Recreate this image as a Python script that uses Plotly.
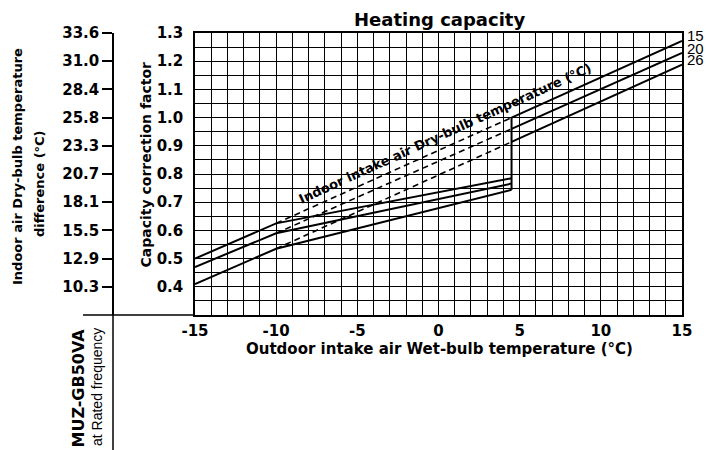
import plotly.graph_objects as go

# ---------------- data ----------------
indoor_db_labels = ["15", "20", "26"]          # indoor intake air dry-bulb temp (°C)
x_start = -15
x_break = -10
x_jump = 4.5
x_end = 15
cf_at_start = [0.50, 0.47, 0.41]
cf_at_break = [0.625, 0.59, 0.535]
cf_at_jump_low = [0.785, 0.766, 0.744]
cf_at_jump_high = [1.0, 0.96, 0.914]
cf_at_end = [1.272, 1.229, 1.188]

x_tick_vals = [-15, -10, -5, 0, 5, 10, 15]
x_tick_labels = ["-15", "-10", "-5", "0", "5", "10", "15"]
factor_tick_vals = [0.4, 0.5, 0.6, 0.7, 0.8, 0.9, 1.0, 1.1, 1.2, 1.3]
factor_tick_labels = ["0.4", "0.5", "0.6", "0.7", "0.8", "0.9", "1.0", "1.1", "1.2", "1.3"]
diff_tick_labels = ["10.3", "12.9", "15.5", "18.1", "20.7", "23.3", "25.8", "28.4", "31.0", "33.6"]

# ---------------- layout geometry ----------------
W, H = 706, 450
ML, MR, MT, MB = 0, 24, 33, 135
PW = W - ML - MR            # paper width in px
PH = H - MT - MB            # paper height in px
PLOT_LEFT = 195


def px_x(px):
    return (px - ML) / PW


def px_y(py):
    return (H - MB - py) / PH


BOLD = "DejaVu Sans"
fig = go.Figure()

line_style = dict(color="black", width=2)
for i in range(len(indoor_db_labels)):
    fig.add_trace(go.Scatter(x=[x_start, x_break, x_jump],
                             y=[cf_at_start[i], cf_at_break[i], cf_at_jump_low[i]],
                             mode="lines", line=line_style, hoverinfo="skip", showlegend=False))
    fig.add_trace(go.Scatter(x=[x_break, x_jump],
                             y=[cf_at_break[i], cf_at_jump_high[i]],
                             mode="lines", line=dict(color="black", width=1.6, dash="6px,4px"),
                             hoverinfo="skip", showlegend=False))
    fig.add_trace(go.Scatter(x=[x_jump, x_end],
                             y=[cf_at_jump_high[i], cf_at_end[i]],
                             mode="lines", line=line_style, hoverinfo="skip", showlegend=False))
fig.add_trace(go.Scatter(x=[x_jump, x_jump],
                         y=[min(cf_at_jump_low), max(cf_at_jump_high)],
                         mode="lines", line=line_style, hoverinfo="skip", showlegend=False))
# carrier for the secondary (temperature difference) axis
fig.add_trace(go.Scatter(x=[x_start], y=[factor_tick_vals[0]], yaxis="y2", mode="markers",
                         marker=dict(opacity=0), hoverinfo="skip", showlegend=False))

fig.update_layout(
    template="none",
    width=W, height=H,
    margin=dict(l=ML, r=MR, t=MT, b=MB, autoexpand=False),
    paper_bgcolor="white", plot_bgcolor="white",
    showlegend=False,
    xaxis=dict(
        domain=[px_x(PLOT_LEFT), 1], range=[-15, 15], automargin=False,
        tickmode="array", tickvals=x_tick_vals, ticktext=x_tick_labels,
        tickfont=dict(family=BOLD, size=15, color="black", weight="bold"),
        ticks="", ticklabelstandoff=1,
        showgrid=True, gridcolor="black", gridwidth=1,
        minor=dict(dtick=1, tick0=-15, showgrid=True, gridcolor="black", gridwidth=1),
        showline=True, mirror=True, linecolor="black", linewidth=1.5,
        zeroline=False,
    ),
    yaxis=dict(
        range=[0.3, 1.3], automargin=False,
        tickmode="array", tickvals=factor_tick_vals, ticktext=factor_tick_labels,
        tickfont=dict(family=BOLD, size=15, color="black", weight="bold"),
        ticks="", ticklabelstandoff=7,
        showgrid=True, gridcolor="black", gridwidth=1,
        minor=dict(dtick=0.05, tick0=0.3, showgrid=True, gridcolor="black", gridwidth=1),
        showline=True, mirror=True, linecolor="black", linewidth=1.5,
        zeroline=False,
    ),
    yaxis2=dict(
        overlaying="y", anchor="free", position=px_x(113), side="left",
        range=[0.3, 1.3], automargin=False,
        tickmode="array", tickvals=factor_tick_vals, ticktext=diff_tick_labels,
        tickfont=dict(family=BOLD, size=15, color="black", weight="bold"),
        ticks="outside", ticklen=10, tickwidth=1.5, tickcolor="black",
        showgrid=False, zeroline=False,
        showline=True, linecolor="black", linewidth=1.5,
    ),
)

shapes = [
    dict(type="line", xref="paper", yref="paper", x0=px_x(113), x1=px_x(113),
         y0=px_y(450), y1=px_y(315), line=dict(color="black", width=1.5)),
    dict(type="line", xref="paper", yref="paper", x0=px_x(83), x1=px_x(PLOT_LEFT),
         y0=px_y(315), y1=px_y(315), line=dict(color="black", width=1.5)),
]
fig.update_layout(shapes=shapes)

ann = []


def add_text(text, px, py, size, family=BOLD, weight="bold", angle=0, xanchor="center"):
    ann.append(dict(text=text, x=px_x(px), y=px_y(py), xref="paper", yref="paper",
                    showarrow=False, textangle=angle, xanchor=xanchor, yanchor="middle",
                    font=dict(family=family, size=size, color="black", weight=weight)))


add_text("Heating capacity", 439, 19.5, 18)
add_text("Outdoor intake air Wet-bulb temperature (°C)", 439, 349, 15)
add_text("Capacity correction factor", 145, 164.5, 14, angle=-90)
add_text("Indoor air Dry-bulb temperature", 17, 167, 13, angle=-90)
add_text("difference (°C)", 40, 184, 13, angle=-90)
add_text("Indoor intake air Dry-bulb temperature (°C)", 445, 133, 13, angle=-24.5)
add_text("MUZ-GB50VA", 78, 388.5, 16, angle=-90)
add_text("at Rated frequency", 97, 387, 14, family="Liberation Sans", weight="normal", angle=-90)

for lab, yv in zip(indoor_db_labels, cf_at_end):
    ann.append(dict(text=lab, x=px_x(685), y=yv, xref="paper", yref="y",
                    showarrow=False, xanchor="left", yanchor="middle", yshift=5,
                    font=dict(family="Liberation Sans", size=15, color="black")))

fig.update_layout(annotations=ann)

fig.write_html("out.html",
               config={"displayModeBar": False},
               post_script="document.body.style.margin='0';document.body.style.padding='0';")
